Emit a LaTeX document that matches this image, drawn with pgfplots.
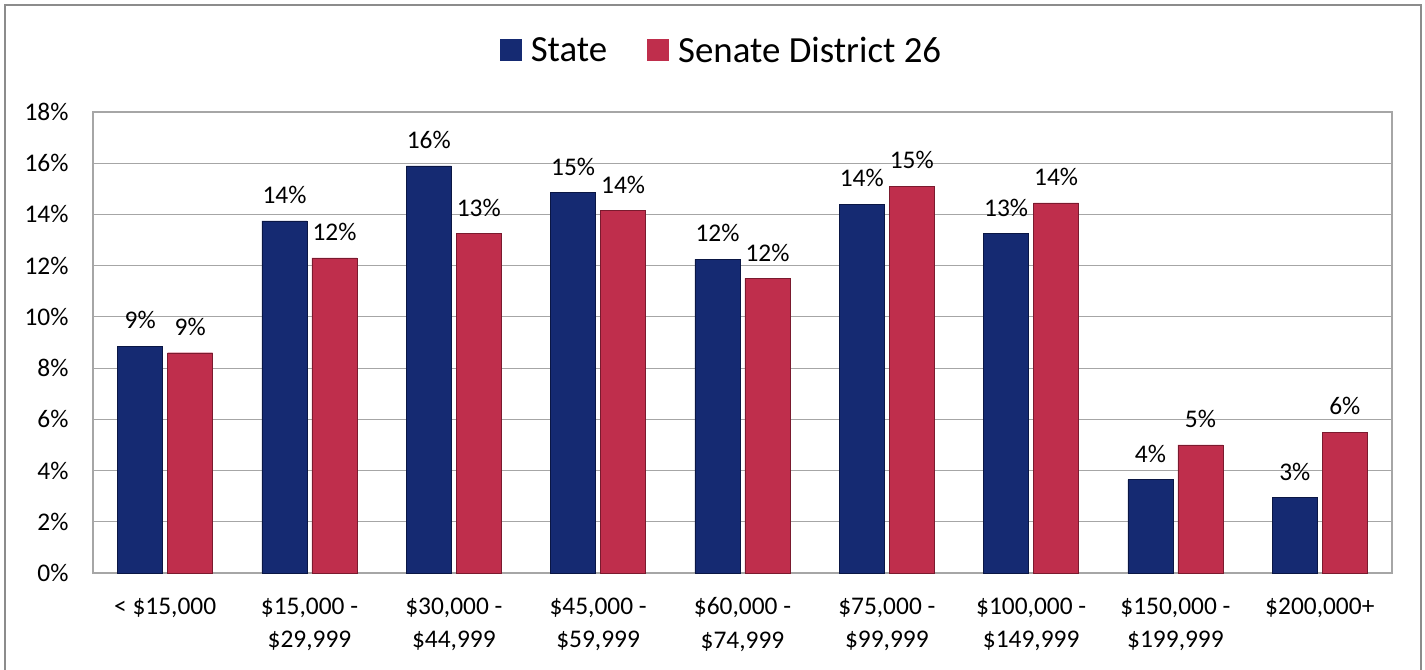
\documentclass[border=0pt]{standalone}
\usepackage{fontspec}
\setmainfont{Carlito}
\usepackage{pgfplots}
\pgfplotsset{compat=1.18}
\definecolor{navyM}{HTML}{152A72}
\definecolor{navyD}{HTML}{0A1644}
\definecolor{redM}{HTML}{BF2E4C}
\definecolor{redD}{HTML}{7A1A2E}
\definecolor{framegray}{HTML}{8C8C8C}
\definecolor{gridgray}{HTML}{A6A6A6}
\begin{document}
\begin{tikzpicture}[x=1bp,y=1bp]
\path[use as bounding box] (0,0) rectangle (1425,670);
\draw[framegray, line width=2bp] (5,-5) -- (5,665) -- (1421,665) -- (1421,-5);
\begin{axis}[
  at={(93bp,97bp)}, anchor=south west,
  scale only axis, width=1299bp, height=461bp,
  ymin=0, ymax=18, ytick={0,2,...,18},
  yticklabel={\pgfmathprintnumber{\tick}\%},
  xmin=-0.5, xmax=8.5,
  xtick=data,
  xticklabels={{< \$15,000},{\$15,000 -\\\$29,999},{\$30,000 -\\\$44,999},{\$45,000 -\\\$59,999},{\$60,000 -\\\$74,999},{\$75,000 -\\\$99,999},{\$100,000 -\\\$149,999},{\$150,000 -\\\$199,999},{\$200,000+}},
  xticklabel style={align=center, font=\fontsize{25.5}{34}\selectfont, yshift=-21bp},
  yticklabel style={font=\fontsize{25.5}{28}\selectfont, xshift=-21bp},
  /pgf/number format/assume math mode=true,
  ymajorgrids, grid style={gridgray, line width=1.2bp},
  axis line style={gridgray, line width=1.5bp},
  major tick length=0pt,
  ybar, bar width=45bp,
  nodes near coords={\pgfmathprintnumber[fixed,precision=0]{\pgfplotspointmeta}\%},
  every node near coord/.append style={font=\fontsize{25.5}{28}\selectfont, anchor=center, yshift=26bp, text=black},
  legend style={at={(0.5,1.134)}, anchor=center, xshift=-21bp, draw=none, legend columns=2, font=\fontsize{37}{42}\selectfont,
     /tikz/every odd column/.append style={column sep=7bp},
     /tikz/every even column/.append style={column sep=38bp}},
  legend image code/.code={\fill[#1, draw=none] (0bp,-11bp) rectangle (22bp,11bp);},
  clip=false,
]
\addplot[ybar, bar shift=-25bp, draw=navyD, fill=navyM] coordinates {
(0,8.85) (1,13.75) (2,15.9) (3,14.85) (4,12.25) (5,14.4) (6,13.25) (7,3.65) (8,2.95)};
\addplot[ybar, bar shift=25bp, draw=redD, fill=redM] coordinates {
(0,8.6) (1,12.3) (2,13.25) (3,14.15) (4,11.5) (5,15.1) (6,14.45) (7,5.0) (8,5.5)};
\legend{State, Senate District 26}
\end{axis}
\end{tikzpicture}
\end{document}
